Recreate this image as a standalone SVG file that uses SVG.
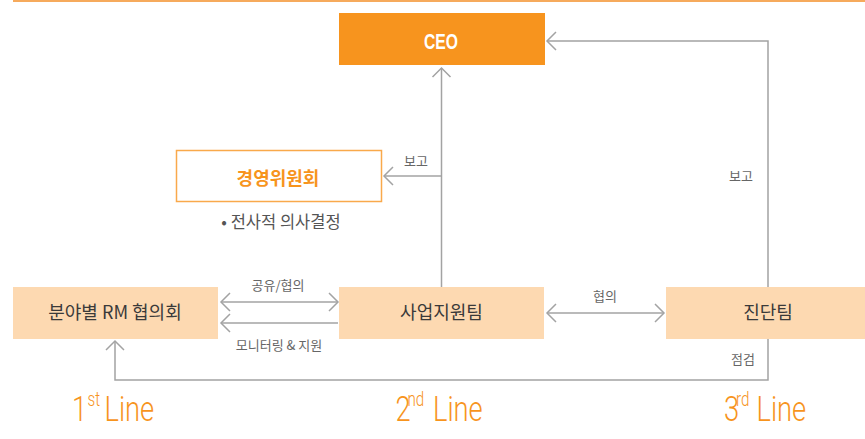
<svg xmlns="http://www.w3.org/2000/svg" width="865" height="439" viewBox="0 0 865 439">
<style>
.box{fill:#fdd9b1}
.bt{font-family:"Noto Sans CJK KR","Noto Sans",sans-serif;font-size:18px;fill:#3a3a3a;text-anchor:middle}
.lbl{font-family:"Noto Sans CJK KR","Noto Sans",sans-serif;font-size:13px;fill:#666;text-anchor:middle}
.con{fill:none;stroke:#a3a3a3;stroke-width:1.5}
.ln{font-family:Roboto,"Liberation Sans",Arial,sans-serif;font-weight:300;font-size:36px;fill:#f7941d}
.sup{font-size:20px}
.dg{letter-spacing:-5px}
</style>
<defs>
<marker id="arr" viewBox="-12 -12 24 24" refX="0" refY="0" markerWidth="24" markerHeight="24" markerUnits="userSpaceOnUse" orient="auto-start-reverse">
<path d="M-9,-9 L0,0 L-9,9" fill="none" stroke="#a3a3a3" stroke-width="1.5"/>
</marker>
</defs>
<line x1="13" y1="1" x2="865" y2="1" stroke="#f6aa5c" stroke-width="2"/>
<g id="ceo">
<rect x="339" y="13" width="206" height="52" fill="#f7941e"/>
<text x="441" y="49" font-family="Liberation Sans,Arial,sans-serif" font-weight="bold" font-size="22" fill="#fff" text-anchor="middle" textLength="34" lengthAdjust="spacingAndGlyphs">CEO</text>
</g>
<g id="committee">
<rect x="176.5" y="150.5" width="205" height="51" fill="#fff" stroke="#f9a94b" stroke-width="1.5"/>
<text x="278" y="185" font-family="Noto Sans CJK KR,sans-serif" font-size="18" font-weight="bold" fill="#f7941d" text-anchor="middle">경영위원회</text>
<text x="281" y="228" font-family="Noto Sans CJK KR,sans-serif" font-size="16.5" fill="#555" text-anchor="middle">• 전사적 의사결정</text>
</g>
<g id="rm">
<rect class="box" x="13" y="287" width="205" height="52"/>
<text class="bt" x="115" y="319">분야별 RM 협의회</text>
</g>
<g id="support">
<rect class="box" x="339" y="287" width="205" height="52"/>
<text class="bt" x="441.5" y="319">사업지원팀</text>
</g>
<g id="audit">
<rect class="box" x="666" y="287" width="199" height="52"/>
<text class="bt" x="768" y="319">진단팀</text>
</g>
<g id="connectors">
<line class="con" x1="441.5" y1="287" x2="441.5" y2="68" marker-end="url(#arr)"/>
<line class="con" x1="441.5" y1="176" x2="384" y2="176" marker-end="url(#arr)"/>
<polyline class="con" points="768,287 768,41 547,41" marker-end="url(#arr)"/>
<line class="con" x1="221" y1="302" x2="338" y2="302" marker-start="url(#arr)" marker-end="url(#arr)"/>
<line class="con" x1="338" y1="323" x2="221" y2="323" marker-end="url(#arr)"/>
<line class="con" x1="547" y1="313" x2="664" y2="313" marker-start="url(#arr)" marker-end="url(#arr)"/>
<polyline class="con" points="768,339 768,380 115,380 115,341" marker-end="url(#arr)"/>
<text class="lbl" x="416" y="166">보고</text>
<text class="lbl" x="741" y="181">보고</text>
<text class="lbl" x="278" y="290">공유/협의</text>
<text class="lbl" x="279" y="350">모니터링 &amp; 지원</text>
<text class="lbl" x="605" y="301">협의</text>
<text class="lbl" x="743" y="364">점검</text>
</g>
<g id="lines" transform="translate(0,421) scale(0.76,1)">
<text class="ln" y="0"><tspan class="dg" x="94.7">1</tspan><tspan class="sup" x="115.1" dy="-15">st</tspan><tspan x="137.5" dy="15">Line</tspan></text>
<text class="ln" y="0"><tspan class="dg" x="520.4">2</tspan><tspan class="sup" x="536.2" dy="-15">nd</tspan><tspan x="569.7" dy="15">Line</tspan></text>
<text class="ln" y="0"><tspan class="dg" x="952.6">3</tspan><tspan class="sup" x="968.4" dy="-15">rd</tspan><tspan x="995.4" dy="15">Line</tspan></text>
</g>
</svg>
